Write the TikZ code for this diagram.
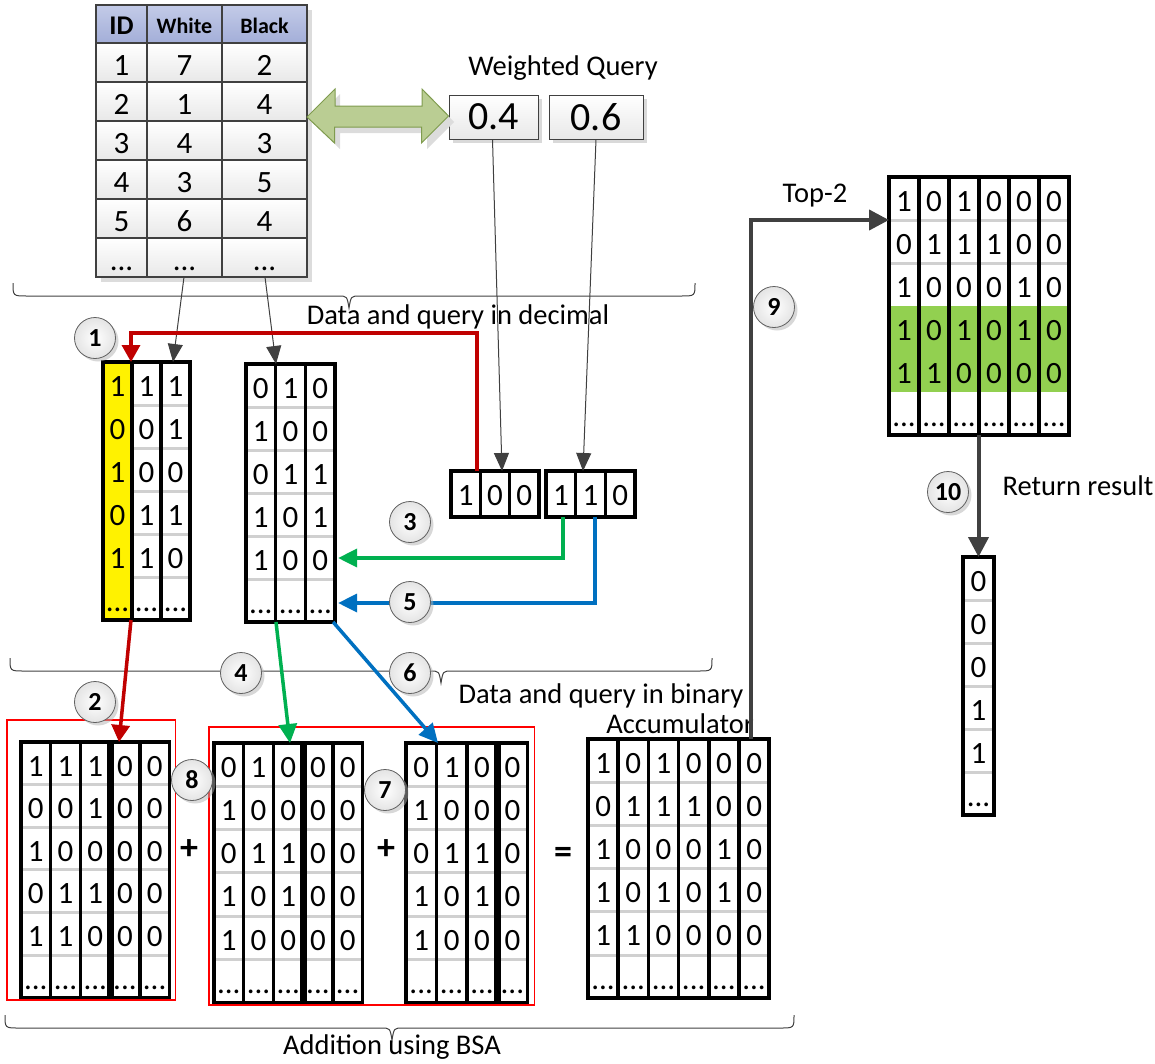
\documentclass[tikz,border=0pt]{standalone}
\usepackage{fontspec}
\setmainfont{Carlito}
\usetikzlibrary{calc,arrows.meta,shadows}
\definecolor{dgray}{HTML}{404040}
\definecolor{rowgray}{HTML}{D0D0D0}
\definecolor{redc}{HTML}{C00000}
\definecolor{greenc}{HTML}{00B050}
\definecolor{bluec}{HTML}{0070C0}
\definecolor{greenfill}{HTML}{92D050}
\definecolor{hdrtop}{HTML}{C3CBE8}
\definecolor{hdrbot}{HTML}{A3AED8}
\definecolor{arrowfill}{HTML}{BACD93}
\definecolor{arrowdraw}{HTML}{7F9B4E}
\definecolor{circline}{HTML}{606060}
\definecolor{circfill}{HTML}{E4E4E4}
\definecolor{shadowgray}{HTML}{DCDCDC}
\definecolor{boxred}{HTML}{FF0000}
\newcommand\mydots{...}
% name, x, y, width, height
\newcommand\bmbox[5]{\node[anchor=north west, minimum width=#4pt, minimum height=#5pt, inner sep=0pt, outer sep=0pt] (#1) at (#2,#3) {};}
% name, rh, list
\newcommand\bmrows[3]{\foreach \k in {#3} {\draw[rowline] ($(#1.north west)+(0,{\k*#2})$) -- ($(#1.north east)+(0,{\k*#2})$);}}
\newcommand\bmborder[1]{\draw[matline] (#1.north west) rectangle (#1.south east);}
% name, cw, list, style
\newcommand\bmseps[4]{\foreach \c in {#3} {\draw[#4] ($(#1.north west)+({\c*#2},0)$) -- ($(#1.south west)+({\c*#2},0)$);}}
% name, cw, rh, data
\newcommand\bmdata[4]{\foreach \r/\vals in {#4} {\foreach \v [count=\c from 0] in \vals {\node[bit] (#1-\r-\c) at ($(#1.north west)+({(\c+0.5)*#2},{\r*#3+34})$) {\v};}}}
% x1 x2 ytop yline xt ytip
\newcommand\mybrace[6]{\draw[bracestyle] (#1,#3) .. controls (#1,#4) .. (#1+14,#4) -- (#5-11,#4) .. controls (#5-2,#4) .. (#5,#6) .. controls (#5+2,#4) .. (#5+11,#4) -- (#2-14,#4) .. controls (#2,#4) .. (#2,#3);}
\begin{document}
\begin{tikzpicture}[x=1pt,y=-1pt,
  bit/.style={font=\fontsize{31}{33}\selectfont, inner sep=0pt, anchor=base},
  lbl/.style={font=\fontsize{28.5}{30}\selectfont, inner sep=0pt, anchor=base},
  hdr/.style={font=\bfseries\fontsize{22}{24}\selectfont, inner sep=0pt, anchor=base},
  matline/.style={line width=3.5pt, draw=black},
  septhick/.style={line width=7pt, draw=black},
  rowline/.style={line width=3pt, draw=rowgray},
  tline/.style={line width=1.3pt, draw=dgray},
  bracestyle/.style={line width=1pt, draw=dgray},
  numc/.style={circle, minimum size=41pt, inner sep=0pt, draw=circline, line width=0.8pt, inner color=white, outer color=circfill, font=\bfseries\fontsize{26}{28}\selectfont, drop shadow={shadow xshift=3pt, shadow yshift=-3pt, fill=black!30, opacity=0.5}},
  wbox/.style={draw=dgray, line width=1pt, top color=white, bottom color=black!9, inner sep=0pt, font=\fontsize{40}{42}\selectfont, drop shadow={shadow xshift=4pt, shadow yshift=-4pt, fill=black!25, opacity=0.6}},
  thinarrow/.style={draw=dgray, line width=1pt, -{Triangle[length=18pt,width=15pt]}},
  redarrow/.style={draw=redc, line width=3.5pt, -{Triangle[length=17pt,width=18pt]}},
  greenarrow/.style={draw=greenc, line width=3.5pt, -{Triangle[length=19pt,width=18pt]}},
  bluearrow/.style={draw=bluec, line width=3.5pt, -{Triangle[length=19pt,width=18pt]}},
  grayarrow/.style={draw=dgray, line width=4pt, -{Triangle[length=20pt,width=20pt]}},
  redbox/.style={draw=boxred, line width=1.2pt},
  plus/.style={font=\bfseries\fontsize{36}{38}\selectfont, inner sep=0pt}
]
\useasboundingbox (0,0) rectangle (1155,1063);

% ---------- table ----------
\node[anchor=north west, minimum width=211pt, minimum height=272pt, inner sep=0pt, outer sep=0pt] (tbl) at (96,5) {};
\fill[shadowgray] ($(tbl.north west)+(5,5)$) rectangle ($(tbl.south east)+(5,5)$);
\shade[top color=hdrtop, bottom color=hdrbot] (tbl.north west) rectangle ($(tbl.north east)+(0,38)$);
\foreach \r in {0,...,5} {\shade[top color=white, bottom color=black!9] ($(tbl.north west)+(0,{38+\r*39})$) rectangle ($(tbl.north east)+(0,{38+(\r+1)*39})$);}
\foreach \r in {1,...,6} {\draw[tline] ($(tbl.north west)+(0,{\r*39-1})$) -- ($(tbl.north east)+(0,{\r*39-1})$);}
\draw[tline] ($(tbl.north west)+(51,0)$) -- ($(tbl.south west)+(51,0)$);
\draw[tline] ($(tbl.north west)+(126,0)$) -- ($(tbl.south west)+(126,0)$);
\draw[tline] (tbl.north west) rectangle (tbl.south east);
\node[hdr, font=\bfseries\fontsize{27}{29}\selectfont] (hid) at ($(tbl.north west)+(25.5,29)$) {ID};
\node[hdr] (hwh) at ($(tbl.north west)+(88.5,28)$) {White};
\node[hdr] (hbl) at ($(tbl.north west)+(168.5,28)$) {Black};
\foreach \r/\a/\b/\c in {0/1/7/2,1/2/1/4,2/3/4/3,3/4/3/5,4/5/6/4,5/\mydots/\mydots/\mydots} {
  \node[bit] (t-\r-0) at ($(tbl.north west)+(25.5,{70+\r*39})$) {\a};
  \node[bit] (t-\r-1) at ($(tbl.north west)+(88.5,{70+\r*39})$) {\b};
  \node[bit] (t-\r-2) at ($(tbl.north west)+(168.5,{70+\r*39})$) {\c};
}

% ---------- weighted query ----------
\node[lbl] (wq) at (563,75) {Weighted Query};
\node[wbox, minimum width=89pt, minimum height=44pt] (w04) at (493.5,117) {0.4};
\node[wbox, minimum width=94pt, minimum height=44pt] (w06) at (596,117) {0.6};

% double arrow between table and query
\coordinate (dal) at (tbl.east |- w04.west);
\coordinate (dar) at ($(w04.west)+(0,-1)$);
\fill[shadowgray] ($(dal)+(5,5)$) -- ++(28,-28) -- ++(0,17) -- ++(87,0) -- ++(0,-17) -- ++(27,28) -- ++(-27,27) -- ++(0,-16) -- ++(-87,0) -- ++(0,16) -- cycle;
\draw[fill=arrowfill, draw=arrowdraw, line width=1pt] (dal) -- ++(28,-28) -- ++(0,17) -- ++(87,0) -- ++(0,-17) -- (dar) -- ++(-27,27) -- ++(0,-16) -- ++(-87,0) -- ++(0,16) -- cycle;

% ---------- braces ----------
\mybrace{13}{695}{283}{296}{349}{308}
\mybrace{10}{712}{658}{671}{441}{683}
\mybrace{5}{794}{1015}{1028}{392}{1040}
\node[lbl] (ldec) at (458,324) {Data and query in decimal};
\node[lbl] (lbin) at (601,703) {Data and query in binary};
\node[lbl] (lbsa) at (392,1054) {Addition using BSA};

% ---------- matrix A (yellow) ----------
\bmbox{A}{103}{362}{87}{258}
\bmrows{A}{43}{1,...,5}
\fill[yellow] (A.north west) rectangle ($(A.south west)+(29,0)$);
\bmborder{A}
\bmseps{A}{29}{1,2}{matline}
\bmdata{A}{29}{43}{0/{1,1,1},1/{0,0,1},2/{1,0,0},3/{0,1,1},4/{1,1,0},5/{\mydots,\mydots,\mydots}}

% ---------- matrix B ----------
\bmbox{B}{246}{364}{89.1}{258}
\bmrows{B}{43}{1,...,5}
\bmborder{B}
\bmseps{B}{29.7}{1,2}{matline}
\bmdata{B}{29.7}{43}{0/{0,1,0},1/{1,0,0},2/{0,1,1},3/{1,0,1},4/{1,0,0},5/{\mydots,\mydots,\mydots}}

% ---------- query in binary ----------
\bmbox{Q1}{451}{471}{87.9}{46}
\bmborder{Q1}
\bmseps{Q1}{29.3}{1,2}{matline}
\bmdata{Q1}{29.3}{46}{0/{1,0,0}}
\bmbox{Q2}{546}{471}{89.1}{46}
\bmborder{Q2}
\bmseps{Q2}{29.7}{1,2}{matline}
\bmdata{Q2}{29.7}{46}{0/{1,1,0}}

% ---------- matrix C ----------
\bmbox{C}{21}{742}{148.5}{256}
\bmrows{C}{42.6}{1,...,5}
\bmborder{C}
\bmseps{C}{29.7}{1,2,4}{matline}
\bmseps{C}{29.7}{3}{septhick}
\bmdata{C}{29.7}{42.6}{0/{1,1,1,0,0},1/{0,0,1,0,0},2/{1,0,0,0,0},3/{0,1,1,0,0},4/{1,1,0,0,0},5/{\mydots,\mydots,\mydots,\mydots,\mydots}}

% ---------- matrix D ----------
\bmbox{D}{214}{743}{148.5}{260}
\bmrows{D}{43.3}{1,...,5}
\bmborder{D}
\bmseps{D}{29.7}{1,2,4}{matline}
\bmseps{D}{29.7}{3}{septhick}
\bmdata{D}{29.7}{43.3}{0/{0,1,0,0,0},1/{1,0,0,0,0},2/{0,1,1,0,0},3/{1,0,1,0,0},4/{1,0,0,0,0},5/{\mydots,\mydots,\mydots,\mydots,\mydots}}

% ---------- matrix E ----------
\bmbox{E}{406}{743}{121.6}{260}
\bmrows{E}{43.3}{1,...,5}
\bmborder{E}
\bmseps{E}{30.4}{1,2}{matline}
\bmseps{E}{30.4}{3}{septhick}
\bmdata{E}{30.4}{43.3}{0/{0,1,0,0},1/{1,0,0,0},2/{0,1,1,0},3/{1,0,1,0},4/{1,0,0,0},5/{\mydots,\mydots,\mydots,\mydots}}

% ---------- accumulator F ----------
\bmbox{F}{588}{739}{181.2}{259}
\bmrows{F}{43.2}{1,...,5}
\bmborder{F}
\bmseps{F}{30.2}{1,...,5}{matline}
\bmdata{F}{30.2}{43.2}{0/{1,0,1,0,0,0},1/{0,1,1,1,0,0},2/{1,0,0,0,1,0},3/{1,0,1,0,1,0},4/{1,1,0,0,0,0},5/{\mydots,\mydots,\mydots,\mydots,\mydots,\mydots}}
\node[lbl] (lacc) at (680,733) {Accumulator};

% ---------- top-2 G ----------
\bmbox{G}{889}{177}{180}{258}
\bmrows{G}{43}{1,2}
\fill[greenfill] ($(G.north west)+(0,129)$) rectangle ($(G.north east)+(0,215)$);
\bmborder{G}
\bmseps{G}{30}{1,...,5}{matline}
\bmdata{G}{30}{43}{0/{1,0,1,0,0,0},1/{0,1,1,1,0,0},2/{1,0,0,0,1,0},3/{1,0,1,0,1,0},4/{1,1,0,0,0,0},5/{\mydots,\mydots,\mydots,\mydots,\mydots,\mydots}}
\node[lbl] (ltop) at (815,202) {Top-2};

% ---------- result H ----------
\bmbox{H}{963}{557}{31}{258}
\bmrows{H}{43}{1,...,5}
\bmborder{H}
\bmdata{H}{31}{43}{0/{0},1/{0},2/{0},3/{1},4/{1},5/{\mydots}}
\node[lbl] (lret) at (1078,495) {Return result};

% ---------- red boxes ----------
\draw[redbox] ($(C.north west)+(-14,-22)$) rectangle ($(C.south east)+(6,2)$);
\draw[redbox] ($(D.north west)+(-5,-16)$) rectangle ($(E.south east)+(7,2)$);

% ---------- plus / equals ----------
\node[plus] (p1) at (189,850) {+};
\node[plus] (p2) at (386,850) {+};
\node[plus] (eq) at (563,855) {=};

% ---------- connectors ----------
\draw[thinarrow] ($(tbl.south west)+(88,0)$) -- ($(A.north west)+(70,0)$);
\draw[thinarrow] ($(tbl.south west)+(169,0)$) -- ($(B.north west)+(30,0)$);
\draw[thinarrow] ($(w04.south)+(-1,0)$) -- ($(Q1.north west)+(51,0)$);
\draw[thinarrow] (w06.south) -- ($(Q2.north west)+(37,0)$);
\draw[redarrow] ($(Q1.north west)+(26,0)$) -- ++(0,-138) -| ($(A.north west)+(28,0)$);
\draw[greenarrow] ($(Q2.south west)+(17,0)$) |- ($(B.north east)+(3,194)$);
\draw[bluearrow] ($(Q2.south west)+(49,0)$) |- ($(B.north east)+(3,239)$);
\draw[redarrow] ($(A.south west)+(28,0)$) -- ($(C.north west)+(98,0)$);
\draw[greenarrow] ($(B.south west)+(30,0)$) -- ($(D.north west)+(76,0)$);
\draw[bluearrow] ($(B.south east)+(-2,0)$) -- ($(E.north west)+(32,0)$);
\draw[grayarrow] ($(F.north west)+(163,0)$) |- ($(G.north west)+(0,43)$);
\draw[grayarrow] (H.north |- G.south) -- (H.north);

% ---------- numbered circles ----------
\node[numc] (c1) at (95,338) {1};
\node[numc] (c2) at (95,702) {2};
\node[numc] (c3) at (410,522) {3};
\node[numc] (c4) at (241,673) {4};
\node[numc] (c5) at (410,602) {5};
\node[numc] (c6) at (410,673) {6};
\node[numc] (c7) at (385,790) {7};
\node[numc] (c8) at (192,780) {8};
\node[numc] (c9) at (774,307) {9};
\node[numc] (c10) at (948,492) {10};
\end{tikzpicture}
\end{document}
